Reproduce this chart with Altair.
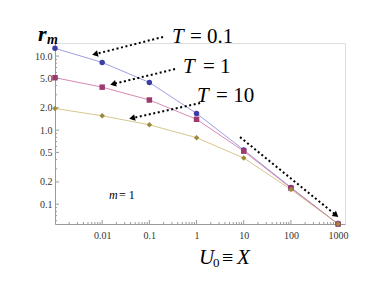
import altair as alt
import pandas as pd

# ---- data ----
X = [0.001, 0.01, 0.1, 1, 10, 100, 1000]
R_T01 = [12.7, 8.2, 4.4, 1.68, 0.54, 0.168, 0.054]
R_T1 = [5.1, 3.8, 2.55, 1.40, 0.52, 0.165, 0.054]
R_T10 = [1.96, 1.56, 1.18, 0.79, 0.42, 0.158, 0.054]
SERIES = ["T = 0.1", "T = 1", "T = 10"]
LINE_COLORS = ["#8585dc", "#cc6a9e", "#ccb772"]
POINT_COLORS = ["#3d3da6", "#9c3a6e", "#9c8a3a"]
SHAPES = ["circle", "square", "diamond"]

X_TICKS = [0.01, 0.1, 1, 10, 100, 1000]
Y_TICKS = [0.1, 0.2, 0.5, 1, 2, 5, 10]
X_MINOR = [k * 10.0 ** e for e in range(-3, 3) for k in range(2, 10)]
Y_MINOR = [0.06, 0.07, 0.08, 0.09, 0.3, 0.4, 0.6, 0.7, 0.8, 0.9, 3, 4, 6, 7, 8, 9]

# annotation arrows (data coordinates) and labels
ARROW_X = [0.195, 0.350, 1.19, 8.36]
ARROW_Y = [18.1, 6.67, 2.32, 0.804]
ARROW_X2 = [0.00705, 0.0170, 0.0429, 906]
ARROW_Y2 = [10.6, 4.19, 1.45, 0.071]
ARROW_ANGLE = [256, 256, 257, 129]

LABEL_T_X = [0.302, 0.518, 1.02]
LABEL_EQ_X = [0.727, 1.37, 2.59]
LABEL_Y = [18.1, 7.10, 2.88]
LABEL_EQ = ["= 0.1", "= 1", "= 10"]

FONT = "Liberation Serif"
W, H = 290, 181

rows = []
for s, vals in zip(SERIES, [R_T01, R_T1, R_T10]):
    for x, v in zip(X, vals):
        rows.append({"x": x, "r": v, "series": s})
df = pd.DataFrame(rows)

xs = alt.Scale(type="log", domain=[0.001, 1400])
ys = alt.Scale(type="log", domain=[0.054, 15])

AX = dict(domainColor="#9a9a9a", domainWidth=1, ticks=False, grid=False,
          labelFont=FONT, labelFontSize=10, labelColor="#333333", title=None)

lines = alt.Chart(df).mark_line(strokeWidth=0.8, clip=False).encode(
    x=alt.X("x:Q", scale=xs,
            axis=alt.Axis(values=X_TICKS, format="~g", labelPadding=6, **AX)),
    y=alt.Y("r:Q", scale=ys,
            axis=alt.Axis(values=Y_TICKS, format=".1f", labelPadding=3, **AX)),
    color=alt.Color("series:N", scale=alt.Scale(domain=SERIES, range=LINE_COLORS), legend=None),
)
points = alt.Chart(df).mark_point(filled=True, size=30, opacity=1).encode(
    x=alt.X("x:Q", scale=xs, axis=None),
    y=alt.Y("r:Q", scale=ys, axis=None),
    fill=alt.Fill("series:N", scale=alt.Scale(domain=SERIES, range=POINT_COLORS), legend=None),
    shape=alt.Shape("series:N", scale=alt.Scale(domain=SERIES, range=SHAPES), legend=None),
)

def yticks(vals, length):
    return alt.Chart(pd.DataFrame({"v": vals})).mark_rule(color="#9a9a9a", strokeWidth=1).encode(
        y=alt.Y("v:Q", scale=ys, axis=None), x=alt.value(0), x2=alt.value(length))

def xticks(vals, length):
    return alt.Chart(pd.DataFrame({"v": vals})).mark_rule(color="#9a9a9a", strokeWidth=1).encode(
        x=alt.X("v:Q", scale=xs, axis=None), y=alt.value(H), y2=alt.value(H - length))

adf = pd.DataFrame({"x": ARROW_X, "y": ARROW_Y, "x2": ARROW_X2, "y2": ARROW_Y2, "a": ARROW_ANGLE})
arrows = alt.Chart(adf).mark_rule(color="black", strokeWidth=2, strokeDash=[2, 2.6]).encode(
    x=alt.X("x:Q", scale=xs, axis=None), y=alt.Y("y:Q", scale=ys, axis=None),
    x2="x2:Q", y2="y2:Q")
heads = alt.Chart(adf).mark_point(shape="triangle-up", filled=True, color="black", size=45, opacity=1).encode(
    x=alt.X("x2:Q", scale=xs, axis=None), y=alt.Y("y2:Q", scale=ys, axis=None),
    angle=alt.Angle("a:Q", scale=None))

ldf = pd.DataFrame({"tx": LABEL_T_X, "ex": LABEL_EQ_X, "y": LABEL_Y, "eq": LABEL_EQ, "t": ["T"] * 3})
lab_t = alt.Chart(ldf).mark_text(font=FONT, fontSize=21, fontStyle="italic", align="left",
                                 baseline="middle", color="black").encode(
    x=alt.X("tx:Q", scale=xs, axis=None), y=alt.Y("y:Q", scale=ys, axis=None), text="t:N")
lab_eq = alt.Chart(ldf).mark_text(font=FONT, fontSize=21, align="left",
                                  baseline="middle", color="black").encode(
    x=alt.X("ex:Q", scale=xs, axis=None), y=alt.Y("y:Q", scale=ys, axis=None), text="eq:N")

mdf = pd.DataFrame({"x": [0.0140, 0.0227], "y": [0.132, 0.132], "s": ["m", "= 1"]})
m_it = alt.Chart(mdf.iloc[[0]]).mark_text(font=FONT, fontSize=12, fontStyle="italic", align="left",
                                         baseline="middle", color="black").encode(
    x=alt.X("x:Q", scale=xs, axis=None), y=alt.Y("y:Q", scale=ys, axis=None), text="s:N")
m_eq = alt.Chart(mdf.iloc[[1]]).mark_text(font=FONT, fontSize=12, align="left",
                                         baseline="middle", color="black").encode(
    x=alt.X("x:Q", scale=xs, axis=None), y=alt.Y("y:Q", scale=ys, axis=None), text="s:N")

def ptext(s, px, py, size, style="normal", weight="normal"):
    return alt.Chart(pd.DataFrame({"s": [s]})).mark_text(
        font=FONT, fontSize=size, fontStyle=style, fontWeight=weight, align="left",
        baseline="middle", color="black").encode(
        x=alt.value(px), y=alt.value(py), text="s:N")

titles = [
    ptext("U", 144, 215, 21, "italic"),
    ptext("0", 158, 220, 13),
    ptext("≡", 167, 215, 20),
    ptext("X", 182, 215, 21, "italic"),
    ptext("r", -17, -9, 22, "italic", "bold"),
    ptext("m", -8, -3, 14, "italic", "bold"),
]

chart = alt.layer(
    lines,
    yticks(Y_TICKS, 4), yticks(Y_MINOR, 2), xticks(X_TICKS, 4), xticks(X_MINOR, 2),
    points, arrows, heads, lab_t, lab_eq, m_it, m_eq, *titles,
).resolve_axis(x="independent", y="independent").properties(
    width=W, height=H,
    autosize=alt.AutoSizeParams(type="none"),
    padding={"left": 47, "top": 35, "right": 25, "bottom": 55},
).configure_view(stroke=None).configure(background="white")

chart.save("out.html", embed_options={"renderer": "svg", "actions": False})
